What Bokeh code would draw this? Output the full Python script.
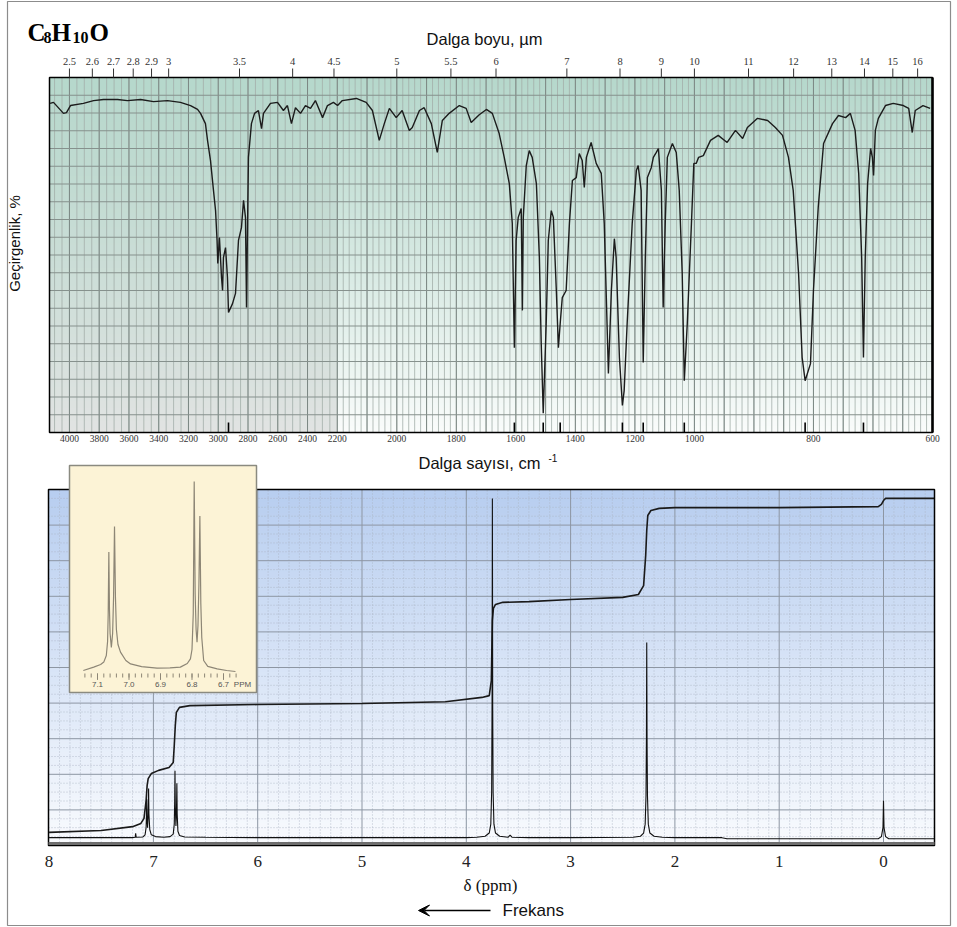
import numpy as np
from bokeh.plotting import figure
from bokeh.models import Range1d, Arrow, VeeHead
from bokeh.core.properties import value
from bokeh.embed import file_html
from bokeh.resources import INLINE

# ---------------------------------------------------------------- data
ir_wavenumber = [
    4130, 4107, 4040, 4020, 3993, 3906, 3838, 3771, 3677, 3610,
    3522, 3435, 3341, 3254, 3186, 3139, 3119, 3086, 3072, 3052,
    3032, 3018, 3008, 3003, 2992, 2978, 2971, 2965, 2951, 2938,
    2931, 2904, 2884, 2864, 2844, 2830, 2817, 2810, 2803, 2797,
    2777, 2756, 2730, 2709, 2696, 2649, 2602, 2562, 2535, 2508,
    2481, 2447, 2414, 2380, 2347, 2299, 2266, 2226, 2199, 2183,
    2136, 2103, 2082, 2059, 2042, 2025, 2002, 1982, 1958, 1948,
    1924, 1908, 1884, 1864, 1847, 1824, 1790, 1767, 1750, 1723,
    1699, 1679, 1656, 1639, 1622, 1612, 1605, 1599, 1592, 1582,
    1578, 1575, 1565, 1555, 1545, 1531, 1521, 1515, 1508, 1498,
    1491, 1481, 1474, 1464, 1457, 1451, 1444, 1431, 1420, 1410,
    1397, 1387, 1377, 1370, 1363, 1347, 1330, 1313, 1303, 1296,
    1289, 1279, 1269, 1263, 1252, 1242, 1236, 1226, 1209, 1195,
    1189, 1179, 1172, 1165, 1158, 1145, 1138, 1128, 1121, 1111,
    1105, 1098, 1091, 1074, 1061, 1051, 1041, 1034, 1024, 1010,
    1002, 997, 993, 985, 973, 960, 945, 931, 919, 911,
    894, 877, 864, 852, 842, 834, 825, 819, 814, 805,
    800, 792, 783, 768, 758, 746, 738, 730, 724, 719,
    716, 713, 709, 704, 701, 699, 696, 691, 679, 666,
    649, 640, 634, 629, 616, 604]
ir_transmittance = [
    92.7, 93.0, 89.9, 90.1, 92.1, 92.7, 93.5, 93.8, 93.8, 93.5,
    93.8, 93.2, 93.5, 93.0, 92.1, 91.0, 89.9, 87.0, 82.3, 76.6,
    68.2, 62.5, 54.1, 47.6, 54.9, 43.7, 40.0, 49.3, 52.1, 43.7,
    33.8, 36.3, 39.2, 54.1, 57.7, 65.4, 60.6, 35.2, 58.9, 77.5,
    87.0, 89.9, 90.7, 85.6, 89.9, 92.7, 93.0, 90.7, 92.1, 87.0,
    91.5, 89.9, 92.1, 91.3, 93.5, 88.7, 92.1, 93.0, 92.1, 93.5,
    94.1, 93.0, 90.7, 82.3, 87.0, 91.3, 88.7, 90.7, 85.1, 85.9,
    90.7, 91.5, 87.0, 78.9, 87.9, 89.9, 92.1, 91.3, 87.3, 89.5,
    91.0, 89.9, 84.2, 77.5, 70.1, 58.9, 23.9, 54.1, 60.6, 63.1,
    34.4, 60.6, 75.2, 79.4, 77.5, 70.1, 49.3, 25.9, 5.4, 30.7,
    54.1, 62.5, 60.6, 40.0, 23.9, 30.7, 38.0, 40.0, 58.9, 71.0,
    71.8, 78.6, 76.6, 69.0, 77.5, 81.7, 75.8, 73.0, 58.9, 38.0,
    16.6, 40.0, 54.6, 49.3, 21.1, 7.6, 11.8, 30.7, 58.9, 73.8,
    75.2, 68.2, 19.7, 49.3, 71.8, 74.6, 77.5, 78.9, 80.0, 68.2,
    35.2, 58.9, 77.5, 81.4, 78.9, 68.2, 44.8, 14.6, 30.7, 58.9,
    75.8, 75.8, 77.5, 78.0, 82.3, 83.7, 81.7, 85.1, 82.8, 85.9,
    88.5, 87.9, 85.9, 83.7, 77.5, 68.2, 44.8, 21.1, 14.6, 19.4,
    40.0, 63.4, 81.4, 87.0, 89.3, 88.7, 89.9, 85.1, 73.0, 49.3,
    21.1, 49.3, 70.1, 80.0, 77.5, 72.4, 85.1, 88.5, 92.1, 92.7,
    92.1, 91.3, 84.5, 90.7, 92.1, 91.3]
ir_peak_marks = [2931, 1605, 1508, 1451, 1242, 1172, 1034, 814, 716]
ir_bottom_ticks = [4000, 3800, 3600, 3400, 3200, 3000, 2800, 2600, 2400, 2200,
                   2000, 1800, 1600, 1400, 1200, 1000, 800, 600]
ir_top_ticks_um = [2.5, 2.6, 2.7, 2.8, 2.9, 3, 3.5, 4, 4.5, 5, 5.5,
                   6, 7, 8, 9, 10, 11, 12, 13, 14, 15, 16]
ir_top_labels = ["2.5", "2.6", "2.7", "2.8", "2.9", "3", "3.5", "4", "4.5", "5", "5.5",
                 "6", "7", "8", "9", "10", "11", "12", "13", "14", "15", "16"]

nmr_ppm = [8.0, 7.6, 7.2, 7.175, 7.17, 7.165, 7.10, 7.08, 7.07, 7.066,
           7.064, 7.061, 7.056, 7.050, 7.046, 7.043, 7.035, 7.02, 6.98, 6.90,
           6.84, 6.81, 6.800, 6.796, 6.793, 6.790, 6.784, 6.779, 6.775, 6.772,
           6.765, 6.75, 6.70, 6.5, 6.0, 5.0, 4.0, 3.90, 3.82, 3.78,
           3.765, 3.757, 3.753, 3.750, 3.747, 3.743, 3.735, 3.72, 3.68, 3.60,
           3.58, 3.56, 3.40, 3.0, 2.40, 2.33, 2.30, 2.285, 2.277, 2.273,
           2.270, 2.267, 2.263, 2.255, 2.24, 2.20, 2.12, 2.0, 1.55, 1.5,
           1.0, 0.5, 0.05, 0.02, 0.005, 0.0, -0.005, -0.02, -0.05, -0.49]
nmr_intensity = [2.2, 2.2, 2.2, 2.3, 3.4, 2.3, 2.4, 3.0, 5.0, 9.0,
                 13.0, 8.0, 5.0, 8.5, 16.0, 9.0, 4.5, 3.0, 2.5, 2.3,
                 2.5, 3.2, 6.0, 12.0, 21.0, 11.0, 5.5, 9.0, 17.5, 9.0,
                 4.0, 2.8, 2.4, 2.3, 2.2, 2.2, 2.2, 2.3, 2.6, 3.5,
                 6.0, 15.0, 40.0, 97.5, 40.0, 15.0, 6.0, 3.5, 2.6, 2.3,
                 2.9, 2.3, 2.2, 2.2, 2.3, 2.6, 3.5, 6.0, 14.0, 30.0,
                 57.0, 30.0, 14.0, 6.0, 3.5, 2.6, 2.3, 2.2, 2.2, 1.9,
                 1.9, 1.9, 1.9, 2.5, 5.0, 12.6, 5.0, 2.5, 1.9, 1.9]
nmr_int_ppm = [8.0, 7.5, 7.2, 7.12, 7.09, 7.07, 7.06, 7.05, 7.02, 6.95,
               6.85, 6.81, 6.80, 6.79, 6.78, 6.75, 6.65, 6.0, 5.0, 4.2,
               3.85, 3.78, 3.76, 3.755, 3.75, 3.74, 3.72, 3.65, 3.4, 3.0,
               2.5, 2.35, 2.30, 2.28, 2.27, 2.26, 2.23, 2.15, 2.0, 1.0,
               0.05, 0.02, 0.0, -0.02, -0.1, -0.49]
nmr_int_value = [3.7, 4.2, 5.3, 6.2, 7.6, 12.6, 16.9, 18.8, 20.2, 21.1,
                 21.9, 23.3, 28.1, 33.7, 37.4, 38.8, 39.3, 39.6, 39.9, 40.4,
                 41.6, 42.1, 46.3, 54.8, 63.2, 66.6, 67.7, 68.3, 68.5, 69.1,
                 69.7, 70.5, 73.0, 81.5, 88.5, 92.7, 94.1, 94.7, 94.9, 94.9,
                 95.2, 95.8, 96.9, 97.5, 97.5, 97.5]
nmr_ticks = [8, 7, 6, 5, 4, 3, 2, 1, 0]
nmr_tick_labels = ["8", "7", "6", "5", "4", "3", "2", "1", "0"]

inset_ppm = [7.145, 7.112, 7.090, 7.080, 7.072, 7.068, 7.066, 7.064, 7.062, 7.060,
             7.056, 7.052, 7.049, 7.046, 7.043, 7.040, 7.035, 7.027, 7.010, 6.995,
             6.960, 6.911, 6.870, 6.837, 6.815, 6.805, 6.800, 6.796, 6.793, 6.790,
             6.787, 6.784, 6.781, 6.778, 6.775, 6.772, 6.769, 6.763, 6.750, 6.720,
             6.690, 6.662]
inset_intensity = [1.5, 3.2, 4.5, 5.7, 9.0, 16.0, 30.0, 60.7, 32.0, 20.0,
                   13.0, 20.0, 38.0, 73.5, 38.0, 22.0, 14.5, 10.7, 6.5, 4.8,
                   3.4, 2.7, 2.8, 3.2, 5.0, 7.3, 12.0, 30.0, 96.0, 40.0,
                   22.0, 15.7, 24.0, 45.0, 78.7, 35.0, 18.0, 6.5, 3.6, 2.3,
                   1.5, 1.0]
inset_ticks = [7.1, 7.0, 6.9, 6.8, 6.7]
inset_tick_labels = ["7.1", "7.0", "6.9", "6.8", "6.7"]


# ---------------------------------------------------------------- helpers
def tf(wn):
    """Piecewise scale of the IR chart paper (4000-2200 / 2200-1000 / 1000-600)."""
    wn = np.asarray(wn, dtype=float)
    return np.where(wn >= 2200, 4000.0 - wn,
                    np.where(wn >= 1000, 1800.0 + (2200.0 - wn) * 2.0,
                             4200.0 + (1000.0 - wn) * 4.0))


def fl(a):
    return [float(v) for v in np.atleast_1d(a)]


W, H = 957, 927
SANS = "Liberation Sans"
SERIF = "Liberation Serif"

# IR panel box in page pixels and its data extent
IR_L, IR_R, IR_T, IR_B = 49, 932, 77, 432
IR_X0, IR_X1 = float(tf(4134)), float(tf(600))


def ir_x(px):
    return IR_X0 + (px - IR_L) * (IR_X1 - IR_X0) / (IR_R - IR_L)


def ir_y(py):
    return (IR_B - py) * 100.0 / (IR_B - IR_T)


# NMR panel box in page pixels
BOX_L, BOX_R, BOX_T, BOX_B = 48, 934, 489, 845


def nmr_x(px):
    return (883.0 - px) / 104.3


def nmr_y(py):
    return (BOX_B - py) * 100.0 / (BOX_B - BOX_T)


# inset expansion (its own ppm / intensity scale)
def ins_x(px):
    return 7.1 - (px - 97.0) / 315.0


def ins_y(py):
    return (673.0 - py) / 2.0


p = figure(width=W, height=H, x_range=Range1d(0, W), y_range=Range1d(H, 0),
           x_axis_location=None, y_axis_location=None, toolbar_location=None,
           title_location=None, output_backend="svg", min_border=0)
p.xgrid.visible = False
p.ygrid.visible = False
p.outline_line_color = None
p.background_fill_color = "white"
p.border_fill_color = "white"
p.extra_x_ranges = {"irx": Range1d(ir_x(0), ir_x(W)),
                    "nx": Range1d(nmr_x(0), nmr_x(W)),
                    "ix": Range1d(ins_x(0), ins_x(W))}
p.extra_y_ranges = {"iry": Range1d(ir_y(H), ir_y(0)),
                    "ny": Range1d(nmr_y(H), nmr_y(0)),
                    "iy": Range1d(ins_y(H), ins_y(0))}
IRC = dict(x_range_name="irx", y_range_name="iry")
NMC = dict(x_range_name="nx", y_range_name="ny")
INC = dict(x_range_name="ix", y_range_name="iy")


def txt(x, y, s, size, font=SANS, align="center", baseline="middle", style="normal",
        color="#111111", angle=0.0, rng=None):
    kw = rng or {}
    xs = list(x) if isinstance(x, (list, tuple, np.ndarray)) else [x]
    ss = list(s) if isinstance(s, (list, tuple)) else [s]
    ys = list(y) if isinstance(y, (list, tuple, np.ndarray)) else [y] * len(xs)
    p.text(x=xs, y=ys, text=ss, text_font=value(font), text_font_size=value(size),
           text_font_style=style, text_align=align, text_baseline=baseline,
           text_color=color, angle=angle, **kw)


# ================================================================ IR panel
nx, ny = 700, 200
xs = np.linspace(IR_X0, IR_X1, nx)
t = np.linspace(0, 1, ny)[:, None, None]
top_c = np.array([182, 216, 204], dtype=float)
bot_r = np.array([251, 253, 252], dtype=float)
bot_l = np.array([226, 228, 227], dtype=float)
left_mask = (xs < float(tf(2200)))[None, :, None]
bottom_c = np.where(left_mask, bot_l, bot_r)
rgb = bottom_c + (top_c - bottom_c) * t ** 0.9
img = np.empty((ny, nx), dtype=np.uint32)
view = img.view(dtype=np.uint8).reshape((ny, nx, 4))
view[..., :3] = np.clip(rgb, 0, 255).astype(np.uint8)
view[..., 3] = 255
p.image_rgba(image=[img], x=IR_X0, y=0, dw=IR_X1 - IR_X0, dh=100, level="image", **IRC)

minor_wn = list(range(4100, 2199, -50)) + list(range(2180, 999, -20)) + list(range(990, 599, -10))
major_wn = list(range(4000, 2199, -200)) + list(range(2100, 999, -100)) + list(range(950, 599, -50))
mw, Mw = tf(minor_wn), tf(major_wn)
p.segment(x0=mw, y0=0, x1=mw, y1=100, line_color="#a3aeaa", line_width=0.8,
          level="underlay", **IRC)
p.segment(x0=Mw, y0=0, x1=Mw, y1=100, line_color="#7c8884", line_width=1,
          level="underlay", **IRC)
hl = list(range(5, 100, 5))
p.segment(x0=IR_X0, y0=hl, x1=IR_X1, y1=hl, line_color="#86918d", line_width=1,
          level="underlay", **IRC)

p.line(x=tf(ir_wavenumber), y=ir_transmittance, line_color="#1c1c1c", line_width=1.4, **IRC)
mk = tf(ir_peak_marks)
p.segment(x0=mk, y0=0, x1=mk, y1=2.8, line_color="black", line_width=1.6, **IRC)

p.quad(left=IR_X0, right=IR_X1, bottom=0, top=100, fill_color=None, line_color="black",
       line_width=1.5, **IRC)
p.segment(x0=IR_X1, y0=0, x1=IR_X1, y1=100, line_color="black", line_width=2.5, **IRC)

# wavelength scale (top) and wavenumber scale (bottom)
top_vals = fl(tf([1e4 / l for l in ir_top_ticks_um]))
p.segment(x0=top_vals, y0=100, x1=top_vals, y1=ir_y(68), line_color="#333333",
          line_width=1, **IRC)
txt(top_vals, ir_y(61), ir_top_labels, "10.5px", font=SERIF, color="#333333", rng=IRC)
bot_vals = fl(tf(ir_bottom_ticks))
txt(bot_vals, ir_y(438), [str(v) for v in ir_bottom_ticks], "9.5px", font=SERIF,
    color="#333333", rng=IRC)

# titles of the IR panel (page pixel coordinates)
txt(484, 38, "Dalga boyu, µm", "16.5px")
txt(14, 243, "Geçirgenlik, %", "15px", angle=np.pi / 2)
for s, px, py, size in [("C", 27, 32, "25px"), ("8", 43, 37, "16px"), ("H", 51, 32, "25px"),
                        ("10", 72, 37, "16px"), ("O", 89, 32, "25px")]:
    txt(px, py, s, size, font=SERIF, align="left", baseline="alphabetic", style="bold",
        color="black")
txt(418, 462, "Dalga sayısı, cm", "16.5px", align="left")
txt(548, 457, "-1", "10px", align="left")

# ================================================================ NMR panel
bl, br = nmr_x(BOX_L), nmr_x(BOX_R)
ny2 = 200
t2 = np.linspace(0, 1, ny2)[:, None, None]
top2 = np.array([184, 206, 240], dtype=float)
bot2 = np.array([249, 251, 254], dtype=float)
rgb2 = bot2 + (top2 - bot2) * t2
img2 = np.empty((ny2, 2), dtype=np.uint32)
v2 = img2.view(dtype=np.uint8).reshape((ny2, 2, 4))
v2[..., :3] = np.clip(np.repeat(rgb2, 2, axis=1), 0, 255).astype(np.uint8)
v2[..., 3] = 255
p.image_rgba(image=[img2], x=br, y=0, dw=bl - br, dh=100, level="image", **NMC)

vmaj = list(range(0, 8))
vmin = [round(float(v), 2) for v in np.arange(-0.4, 8.0, 0.1) if abs(v - round(v)) > 1e-6]
hmaj = list(range(10, 100, 10))
hmin = [float(v) for v in np.arange(2.5, 100, 2.5) if abs(v % 10) > 1e-6]
p.segment(x0=vmin, y0=0, x1=vmin, y1=100, line_color="#a9b3c2", line_width=0.8,
          line_dash="1 2", level="underlay", **NMC)
p.segment(x0=bl, y0=hmin, x1=br, y1=hmin, line_color="#a9b3c2", line_width=0.8,
          line_dash="1 2", level="underlay", **NMC)
p.segment(x0=vmaj, y0=0, x1=vmaj, y1=100, line_color="#8d96a3", line_width=1,
          level="underlay", **NMC)
p.segment(x0=bl, y0=hmaj, x1=br, y1=hmaj, line_color="#8d96a3", line_width=1,
          level="underlay", **NMC)

p.line(x=nmr_int_ppm, y=nmr_int_value, line_color="#1a1a1a", line_width=1.6, **NMC)
p.line(x=nmr_ppm, y=nmr_intensity, line_color="#111111", line_width=1.1, **NMC)

p.quad(left=bl, right=br, bottom=0, top=100, fill_color=None, line_color="black",
       line_width=1.5, **NMC)
p.segment(x0=bl, y0=nmr_y(843), x1=br, y1=nmr_y(843), line_color="#6e6e6e", line_width=3,
          **NMC)

txt(nmr_ticks, nmr_y(861), nmr_tick_labels, "17px", font=SERIF, color="#222222", rng=NMC)
txt(490, 885, "δ (ppm)", "17px", font=SERIF)
p.add_layout(Arrow(end=VeeHead(size=11, fill_color="black", line_color="black"),
                   x_start=490, y_start=910, x_end=418, y_end=910,
                   line_color="black", line_width=1.3))
txt(502, 910, "Frekans", "17px", align="left")

# ---------------------------------------------------------------- inset
p.quad(left=ins_x(69), right=ins_x(256), bottom=ins_y(692), top=ins_y(465),
       fill_color="#fcf3d6", line_color="#8a8a80", line_width=1.5, **INC)
minor_it = [round(float(v), 2) for v in np.arange(6.66, 7.145, 0.02)]
p.segment(x0=minor_it, y0=0, x1=minor_it, y1=-2, line_color="#8d8676", line_width=1, **INC)
p.segment(x0=inset_ticks, y0=0, x1=inset_ticks, y1=-3.2, line_color="#8d8676",
          line_width=1, **INC)
p.line(x=inset_ppm, y=inset_intensity, line_color="#8d8676", line_width=1.2, **INC)
txt(inset_ticks, ins_y(684), inset_tick_labels, "8px", color="#555555", rng=INC)
txt([ins_x(242)], ins_y(684), "PPM", "8px", color="#555555", rng=INC)

# ---------------------------------------------------------------- page frame
p.quad(left=7, right=950, top=1, bottom=925, fill_color=None, line_color="#8c8c8c",
       line_width=1.2)

with open("out.html", "w") as f:
    f.write(file_html(p, INLINE, title="C8H10O"))
